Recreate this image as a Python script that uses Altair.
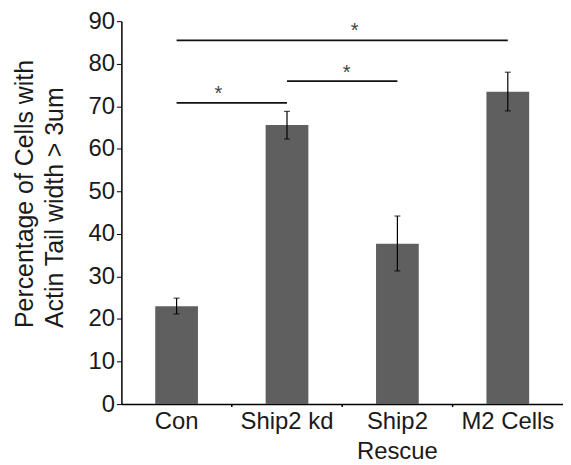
import altair as alt
import pandas as pd

categories = ["Con", "Ship2 kd", "Ship2 Rescue", "M2 Cells"]
means = [23.0, 65.6, 37.7, 73.4]
err_low = [21.2, 62.3, 31.3, 68.9]
err_high = [24.9, 68.8, 44.2, 78.0]

# significance brackets: from category, to category, level
sig_from = ["Con", "Ship2 kd", "Con"]
sig_to = ["Ship2 kd", "Ship2 Rescue", "M2 Cells"]
sig_level = [70.8, 75.9, 85.5]
# star anchors (category) and heights
star_cat = ["Con", "Ship2 kd", "Ship2 kd"]
star_y = [72.8, 77.8, 87.6]
star_dx = [42, 60, 68]

tick_cats = ["Con", "Ship2 kd", "Ship2 Rescue"]

FONT = "Liberation Sans"
W, H = 444, 385
STEP = W / len(categories)

bars_df = pd.DataFrame({"cat": categories, "mean": means, "lo": err_low, "hi": err_high})
sig_df = pd.DataFrame({"cat": sig_from, "cat2": sig_to, "mean": sig_level})
tick_df = pd.DataFrame({"cat": tick_cats})

yscale = alt.Scale(domain=[0, 90], nice=False)
yaxis = alt.Axis(
    values=list(range(0, 91, 10)),
    title=["Percentage of Cells with", "Actin Tail width > 3um"],
    titleFont=FONT,
    titleFontSize=25,
    titleFontWeight="normal",
    titleColor="#1a1a1a",
    titleAlign="left",
    titleBaseline="alphabetic",
    titleAngle=270,
    titleX=-89,
    titleY=308,
    titleLineHeight=30,
    labelFont=FONT,
    labelFontSize=24,
    labelColor="#1a1a1a",
    labelPadding=2,
    tickSize=5,
    tickColor="#000000",
    tickWidth=1,
    domainColor="#000000",
    domainWidth=1.5,
    grid=False,
)

bandscale = alt.Scale(domain=categories, paddingInner=0.613, paddingOuter=0.3065)
xband = alt.X(
    "cat:N",
    sort=categories,
    scale=bandscale,
    axis=alt.Axis(
        title=None,
        labelAngle=0,
        labelFont=FONT,
        labelFontSize=24,
        labelColor="#1a1a1a",
        labelLineHeight=30,
        labelPadding=6,
        labelBaseline="top",
        ticks=False,
        domainColor="#000000",
        domainWidth=1.5,
        labelExpr="datum.label == 'Ship2 Rescue' ? ['Ship2', 'Rescue'] : datum.label",
    ),
)
yq = alt.Y("mean:Q", scale=yscale, axis=yaxis)

bars = alt.Chart(bars_df).mark_bar(color="#5f5f5f").encode(x=xband, y=yq)

err_rule = alt.Chart(bars_df).mark_rule(color="#000000", strokeWidth=1.2).encode(
    x=xband,
    y=alt.Y("lo:Q", scale=yscale, axis=yaxis),
    y2="hi:Q",
)
cap_lo = alt.Chart(bars_df).mark_tick(color="#000000", thickness=1.2, size=6).encode(
    x=xband, y=alt.Y("lo:Q", scale=yscale, axis=yaxis)
)
cap_hi = alt.Chart(bars_df).mark_tick(color="#000000", thickness=1.2, size=6).encode(
    x=xband, y=alt.Y("hi:Q", scale=yscale, axis=yaxis)
)

sig_lines = alt.Chart(sig_df).mark_rule(color="#111111", strokeWidth=1.8).encode(
    x=xband,
    x2="cat2:N",
    y=yq,
)

star_layers = []
for c, yv, dx in zip(star_cat, star_y, star_dx):
    sdf = pd.DataFrame({"cat": [c], "mean": [yv], "t": ["*"]})
    star_layers.append(
        alt.Chart(sdf)
        .mark_text(font=FONT, fontSize=20, color="#444444", baseline="middle", align="center", dx=dx)
        .encode(x=xband, y=yq, text="t:N")
    )

xticks = alt.Chart(tick_df).mark_rule(
    color="#000000", strokeWidth=1.5, xOffset=STEP / 2
).encode(
    x=xband,
    y=alt.value(H),
    y2=alt.value(H + 3),
)

chart = (
    alt.layer(bars, err_rule, cap_lo, cap_hi, sig_lines, *star_layers, xticks)
    .properties(
        width=W,
        height=H,
        background="white",
        autosize=alt.AutoSizeParams(type="none"),
        padding={"left": 114, "top": 12, "right": 0, "bottom": 60},
    )
    .configure_view(strokeWidth=0, stroke="transparent")
)

chart.save("out.html", embed_options={"renderer": "svg", "actions": False})
